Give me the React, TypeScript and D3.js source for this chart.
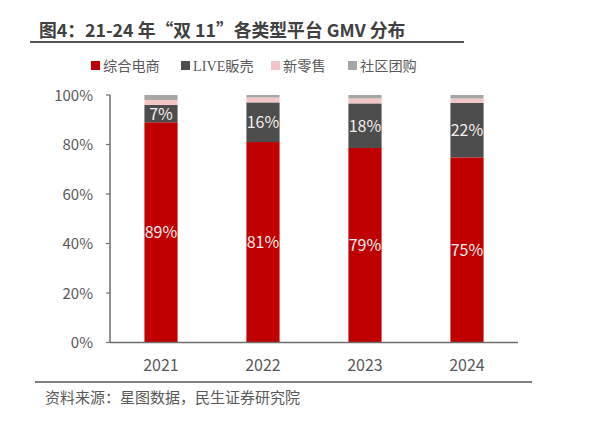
import React from "react";
import * as d3 from "d3";

const categories = ["2021", "2022", "2023", "2024"];
const seriesNames = ["综合电商", "LIVE販売", "新零售", "社区团购"];
const ecommerce = [89, 81, 78.6, 74.8];
const live = [7, 16, 18, 22];
const newRetail = [2, 2, 2, 1.8];
const community = [2, 1, 1.4, 1.4];
const yTicks = [0, 20, 40, 60, 80, 100];
const colors = ["#C00000", "#4D4D4D", "#F2C6C6", "#A6A6A6"];

const W = 600, H = 441;
const left = 110, right = 518, top = 95, bottom = 342.5;

export default function App() {
  const x = d3.scaleBand<string>().domain(categories).range([left, right]).paddingInner(0.675).paddingOuter(0.3375);
  const y = d3.scaleLinear().domain([0, 100]).range([bottom, top]);
  const rows = categories.map((c, i) => ({
    cat: c,
    s0: ecommerce[i], s1: live[i], s2: newRetail[i], s3: community[i],
  }));
  const stacked = d3.stack<any>().keys(["s0", "s1", "s2", "s3"])(rows);
  const font = "'Noto Sans CJK SC', 'Noto Sans', sans-serif";
  const legendX = [91, 181, 271, 348];
  return (
    <svg width={W} height={H} style={{ position: "absolute", left: 0, top: 0, background: "#fff" }} fontFamily={font}>
      <text x={39} y={37} fontSize={17.8} fontWeight="bold" fill="#404040">图4：21-24 年“双 11”各类型平台 GMV 分布</text>
      <line x1={30} x2={464} y1={42} y2={42} stroke="#555" strokeWidth={1.8} />
      {seriesNames.map((n, i) => (
        <g key={n}>
          <rect x={legendX[i]} y={61} width={9} height={9} fill={colors[i]} />
          <text x={legendX[i] + 12} y={71} fontSize={14.2} fill="#595959"
            fontFamily={i === 1 ? "'Liberation Serif', 'Noto Sans CJK SC', serif" : font}>{n}</text>
        </g>
      ))}
      {stacked.map((layer, li) => (
        <g key={li}>
          {layer.map((d: any, j: number) => (
            <rect key={j} x={x(d.data.cat)} width={x.bandwidth()} y={y(d[1])} height={y(d[0]) - y(d[1])}
              fill={colors[li]} />
          ))}
        </g>
      ))}
      {stacked.slice(0, 2).map((layer, li) => (
        <g key={"l" + li}>
          {layer.map((d: any, j: number) => (
            <text key={j} x={(x(d.data.cat) as number) + x.bandwidth() / 2} y={(y(d[0]) + y(d[1])) / 2 + 6}
              textAnchor="middle" fontSize={16} fill="#F4ECEC">{Math.round(d[1] - d[0])}%</text>
          ))}
        </g>
      ))}
      <line x1={left} x2={left} y1={top} y2={bottom} stroke="#6E6E6E" strokeWidth={1.5} />
      <line x1={left} x2={right} y1={bottom} y2={bottom} stroke="#6E6E6E" strokeWidth={1.5} />
      {yTicks.map((t) => (
        <g key={t}>
          <line x1={left - 4} x2={left} y1={y(t)} y2={y(t)} stroke="#6E6E6E" strokeWidth={1.2} />
          <text x={93} y={y(t) + 5.5} textAnchor="end" fontSize={15} fill="#595959">{t}%</text>
        </g>
      ))}
      {categories.map((c) => (
        <text key={c} x={(x(c) as number) + x.bandwidth() / 2} y={371} textAnchor="middle" fontSize={16} fill="#595959">{c}</text>
      ))}
      <line x1={35} x2={532} y1={382} y2={382} stroke="#555" strokeWidth={1.5} />
      <text x={45} y={403} fontSize={15} fill="#595959">资料来源：星图数据，民生证券研究院</text>
    </svg>
  );
}
